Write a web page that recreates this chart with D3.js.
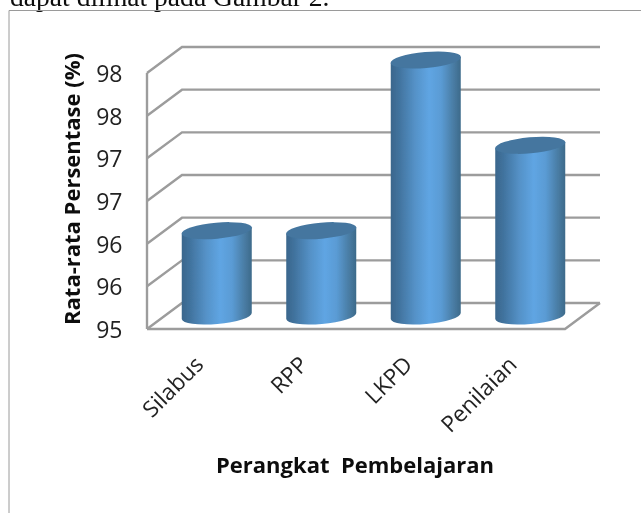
<!DOCTYPE html>
<html><head><meta charset="utf-8">
<script src="https://cdnjs.cloudflare.com/ajax/libs/d3/7.8.5/d3.min.js"></script>
<style>html,body{margin:0;padding:0;background:#fff;overflow:hidden}svg{display:block}</style>
</head><body><svg id="c" width="641" height="513"></svg>
<script>
const categories = ["Silabus", "RPP", "LKPD", "Penilaian"];
const values = [96, 96, 98, 97];
const tickValues = [95, 95.5, 96, 96.5, 97, 97.5, 98];
const yTitle = "Rata-rata Persentase (%)";
const xTitle = "Perangkat  Pembelajaran";
const caption = "dapat dilihat pada Gambar 2.";

const svg = d3.select("#c");
const font = "'Open Sans',sans-serif";
const depthX = 35, depthY = -26;
const y = d3.scaleLinear().domain([95, 98]).range([329, 73]);
const x = d3.scaleBand().domain(categories).range([147, 565]);
const rx = 35, ry = 8, tilt = 5, grid = "#9c9c9c";

const defs = svg.append("defs");
const g = defs.append("linearGradient").attr("id", "cyl");
[[0,"#3a668c"],[.12,"#41739e"],[.35,"#5592c8"],[.55,"#5fa5e3"],[.72,"#5a9bd4"],[.88,"#4b7fa8"],[1,"#3d6a8a"]]
  .forEach(([o,c]) => g.append("stop").attr("offset", o).attr("stop-color", c));
const soft = defs.append("filter").attr("id","soft").attr("x","-20%").attr("y","-20%").attr("width","140%").attr("height","140%");
soft.append("feGaussianBlur").attr("stdDeviation",0.5);
const root = svg.append("g").attr("filter","url(#soft)");

root.append("text").attr("x", 10).attr("y", 6).attr("font-family","'Liberation Serif',serif")
  .attr("font-size", 27.6).attr("fill","#111").text(caption);
root.append("path").attr("d","M9 513V10.5H641").attr("fill","none").attr("stroke","#9a9a9a").attr("stroke-width",1);

const [x0, x1] = x.range();
root.append("path").attr("fill","none").attr("stroke",grid).attr("stroke-width",2.4)
  .attr("d", `M${x0} ${y(95)}H${x1}L${x1+depthX} ${y(95)+depthY}`);
tickValues.forEach(v => {
  root.append("path").attr("fill","none").attr("stroke",grid).attr("stroke-width",2.4)
    .attr("d", `M${x0} ${y(v)}L${x0+depthX} ${y(v)+depthY}H${x1+depthX}`);
});
root.append("path").attr("stroke",grid).attr("stroke-width",2.4)
  .attr("d", `M${x0} ${y(98)}V${y(95)}`);
tickValues.forEach(v => {
  root.append("text").attr("x", 122.5).attr("y", y(v)+9).attr("text-anchor","end")
    .attr("font-family",font).attr("font-size",23).attr("fill","#222")
    .text(d3.format(".0f")(v));
});
const rad = tilt*Math.PI/180;
categories.forEach((c,i) => {
  const cx = x(c)+x.bandwidth()/2 + depthX/2;
  const by = y(95)+depthY/2, ty = y(values[i])+depthY/2;
  const dy = rx*Math.tan(rad);
  const gr = root.append("g");
  gr.append("path").attr("fill","url(#cyl)")
    .attr("d", `M${cx-rx} ${ty+dy}L${cx+rx} ${ty-dy}L${cx+rx} ${by-dy}A${rx} ${ry} ${-tilt} 0 1 ${cx-rx} ${by+dy}Z`);
  gr.append("ellipse").attr("cx",cx).attr("cy",ty).attr("rx",rx+0.3).attr("ry",ry)
    .attr("transform",`rotate(${-tilt} ${cx} ${ty})`).attr("fill","#44769f");
  root.append("text").attr("transform",`translate(${cx-12},${y(95)+37}) rotate(-45)`)
    .attr("text-anchor","end").attr("font-family",font).attr("font-size",22.5).attr("fill","#222").text(c);
});
root.append("text").attr("transform","translate(80,189) rotate(-90)").attr("text-anchor","middle")
  .attr("font-family",font).attr("font-weight",700).attr("font-size",22).attr("fill","#111").text(yTitle);
root.append("text").attr("x",355).attr("y",473).attr("text-anchor","middle").style("white-space","pre")
  .attr("font-family",font).attr("font-weight",700).attr("font-size",22).attr("fill","#111").text(xTitle);
</script></body></html>
